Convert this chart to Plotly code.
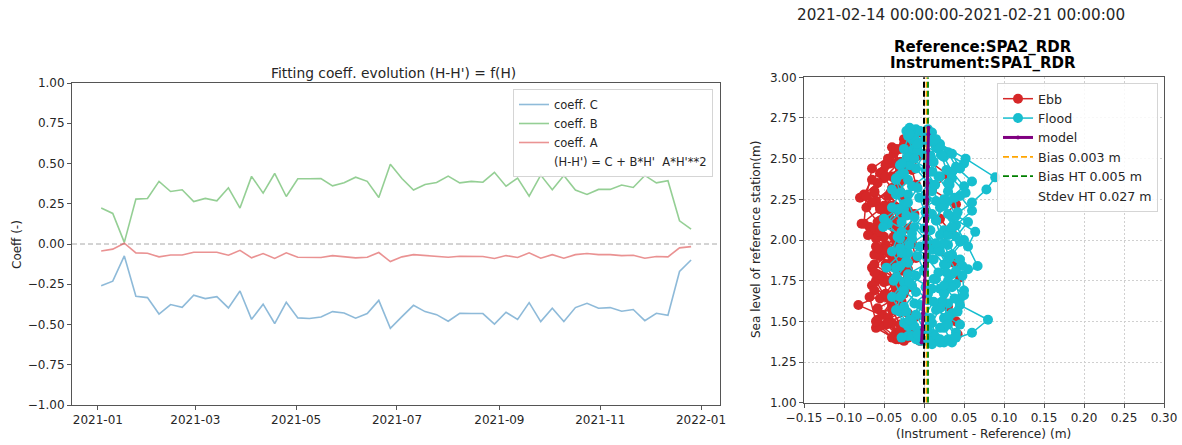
import pandas as pd
import plotly.graph_objects as go

# ---- Weekly fitting coefficients (H-H') = C + B*H' + A*H'**2 ----
weeks = pd.date_range("2021-01-03", periods=52, freq="7D")

coeff_c = [-0.260, -0.231, -0.074, -0.325, -0.333, -0.435, -0.376, -0.393, -0.318, -0.339,
           -0.327, -0.397, -0.292, -0.468, -0.374, -0.494, -0.362, -0.459, -0.463, -0.453,
           -0.420, -0.428, -0.461, -0.432, -0.350, -0.524, -0.451, -0.381, -0.420, -0.439,
           -0.480, -0.430, -0.432, -0.432, -0.497, -0.424, -0.468, -0.364, -0.482, -0.399,
           -0.482, -0.395, -0.368, -0.399, -0.395, -0.418, -0.407, -0.476, -0.430, -0.443,
           -0.171, -0.099]
coeff_b = [0.223, 0.190, 0.010, 0.279, 0.283, 0.389, 0.326, 0.337, 0.264, 0.283,
           0.268, 0.349, 0.223, 0.420, 0.316, 0.438, 0.295, 0.405, 0.405, 0.407,
           0.361, 0.380, 0.415, 0.389, 0.289, 0.496, 0.407, 0.335, 0.370, 0.382,
           0.422, 0.380, 0.389, 0.384, 0.445, 0.359, 0.409, 0.297, 0.428, 0.337,
           0.426, 0.335, 0.308, 0.339, 0.339, 0.366, 0.351, 0.426, 0.380, 0.393,
           0.144, 0.092]
coeff_a = [-0.043, -0.032, 0.005, -0.055, -0.057, -0.080, -0.068, -0.068, -0.051, -0.053,
           -0.051, -0.070, -0.039, -0.086, -0.059, -0.090, -0.055, -0.082, -0.082, -0.084,
           -0.072, -0.078, -0.086, -0.082, -0.053, -0.109, -0.080, -0.066, -0.072, -0.074,
           -0.082, -0.076, -0.078, -0.078, -0.090, -0.072, -0.084, -0.055, -0.088, -0.066,
           -0.088, -0.066, -0.059, -0.066, -0.066, -0.072, -0.070, -0.088, -0.078, -0.080,
           -0.024, -0.016]

left_xticks = ["2021-01-01", "2021-03-01", "2021-05-01", "2021-07-01",
               "2021-09-01", "2021-11-01", "2022-01-01"]
left_xrange = ["2020-12-16 08:00", "2022-01-12 12:00"]

# ---- One week of high-tide differences (Instrument - Reference), one list per tide ----
ebb_y = [
    [2.64, 2.56, 2.47, 2.38, 2.29, 2.20, 2.11, 2.02, 1.93, 1.84, 1.75, 1.66, 1.57, 1.48, 1.40],
    [2.62, 2.53, 2.44, 2.35, 2.26, 2.17, 2.08, 1.99, 1.90, 1.81, 1.72, 1.63, 1.54, 1.45, 1.38],
    [2.60, 2.51, 2.42, 2.33, 2.24, 2.15, 2.06, 1.97, 1.88, 1.79, 1.70, 1.60, 1.52, 1.43],
    [2.66, 2.57, 2.48, 2.39, 2.30, 2.21, 2.12, 2.03, 1.94, 1.85, 1.76, 1.67, 1.58, 1.49, 1.41],
    [2.63, 2.54, 2.45, 2.36, 2.27, 2.18, 2.09, 2.00, 1.91, 1.82, 1.73, 1.64, 1.55, 1.46, 1.39],
    [2.58, 2.49, 2.40, 2.31, 2.22, 2.13, 2.04, 1.95, 1.86, 1.77, 1.68, 1.59, 1.50, 1.42],
    [2.61, 2.52, 2.43, 2.34, 2.25, 2.16, 2.07, 1.98, 1.89, 1.80, 1.71, 1.62, 1.53, 1.44, 1.38],
    [2.55, 2.46, 2.37, 2.28, 2.19, 2.10, 2.01, 1.92, 1.83, 1.74, 1.65, 1.56, 1.47, 1.40],
    [2.59, 2.50, 2.41, 2.32, 2.23, 2.14, 2.05, 1.96, 1.87, 1.78, 1.69, 1.60, 1.51, 1.43],
    [2.57, 2.48, 2.39, 2.30, 2.21, 2.12, 2.03, 1.94, 1.85, 1.76, 1.67, 1.58, 1.49, 1.41],
    [2.65, 2.56, 2.47, 2.38, 2.29, 2.20, 2.11, 2.02, 1.93, 1.84, 1.75, 1.66, 1.57, 1.48, 1.40],
    [2.62, 2.44, 2.27, 2.10, 1.95, 1.80, 1.65, 1.50, 1.39],
]
ebb_x = [
    [-0.015, -0.030, -0.042, -0.050, -0.062, -0.072, -0.058, -0.050, -0.045, -0.040, -0.060, -0.050, -0.035, -0.048, -0.028],
    [-0.025, -0.038, -0.030, -0.058, -0.080, -0.045, -0.068, -0.035, -0.055, -0.030, -0.065, -0.040, -0.052, -0.022, -0.025],
    [-0.008, -0.020, -0.052, -0.035, -0.060, -0.030, -0.062, -0.048, -0.030, -0.058, -0.035, -0.082, -0.045, -0.035],
    [-0.002, -0.018, -0.028, -0.040, -0.030, -0.050, -0.040, -0.070, -0.025, -0.048, -0.038, -0.025, -0.058, -0.040, -0.012],
    [0.008, -0.010, -0.020, -0.028, -0.045, -0.020, -0.035, -0.025, -0.062, -0.020, -0.030, -0.055, -0.020, -0.060, -0.035],
    [0.015, 0.005, 0.030, 0.010, 0.040, 0.020, 0.035, 0.010, 0.038, 0.045, 0.025, 0.030, 0.040, 0.042],
    [-0.020, -0.005, -0.015, -0.010, -0.025, -0.012, -0.020, -0.015, -0.010, -0.022, -0.015, -0.028, -0.010, -0.018, -0.005],
    [-0.035, -0.048, -0.065, -0.075, -0.055, -0.078, -0.060, -0.042, -0.065, -0.050, -0.045, -0.030, -0.055, -0.040],
    [-0.025, -0.045, -0.055, -0.040, -0.065, -0.050, -0.055, -0.060, -0.040, -0.052, -0.062, -0.040, -0.058, -0.030],
    [-0.040, -0.030, -0.048, -0.062, -0.040, -0.055, -0.035, -0.050, -0.062, -0.035, -0.048, -0.038, -0.045, -0.022],
    [-0.018, -0.035, -0.035, -0.030, -0.042, -0.035, -0.045, -0.038, -0.035, -0.030, -0.045, -0.035, -0.040, -0.030, -0.020],
    [-0.012, -0.065, -0.072, -0.075, -0.058, -0.062, -0.068, -0.060, -0.032],
]
flood_y = [
    [1.38, 1.46, 1.55, 1.64, 1.73, 1.82, 1.91, 2.00, 2.09, 2.18, 2.27, 2.36, 2.45, 2.54, 2.63],
    [1.37, 1.43, 1.51, 1.60, 1.69, 1.78, 1.84, 1.96, 2.05, 2.14, 2.23, 2.31, 2.385, 2.50, 2.59, 2.68],
    [1.39, 1.47, 1.56, 1.65, 1.74, 1.83, 1.92, 2.01, 2.10, 2.19, 2.28, 2.37, 2.46, 2.55, 2.64],
    [1.40, 1.49, 1.58, 1.67, 1.76, 1.85, 1.94, 2.03, 2.12, 2.21, 2.30, 2.39, 2.48, 2.57, 2.66],
    [1.36, 1.43, 1.52, 1.61, 1.70, 1.79, 1.88, 1.97, 2.06, 2.15, 2.24, 2.33, 2.42, 2.51, 2.60],
    [1.38, 1.45, 1.54, 1.63, 1.72, 1.81, 1.90, 1.99, 2.08, 2.17, 2.26, 2.35, 2.44, 2.53, 2.62, 2.69],
    [1.39, 1.48, 1.57, 1.66, 1.75, 1.84, 1.93, 2.02, 2.11, 2.20, 2.29, 2.38, 2.47, 2.56, 2.65],
    [1.41, 1.50, 1.59, 1.68, 1.77, 1.86, 1.95, 2.04, 2.13, 2.22, 2.31, 2.40, 2.49, 2.58, 2.67],
    [1.37, 1.42, 1.50, 1.58, 1.67, 1.76, 1.85, 1.94, 2.03, 2.12, 2.21, 2.30, 2.39, 2.48, 2.57, 2.66],
    [1.40, 1.47, 1.56, 1.65, 1.74, 1.83, 1.92, 2.01, 2.08, 2.19, 2.28, 2.37, 2.46, 2.55, 2.64],
    [1.38, 1.44, 1.52, 1.61, 1.70, 1.79, 1.88, 1.97, 2.06, 2.15, 2.24, 2.33, 2.42, 2.51, 2.60, 2.67],
    [1.37, 1.46, 1.53, 1.62, 1.71, 1.80, 1.89, 1.98, 2.07, 2.16, 2.25, 2.34, 2.43, 2.52, 2.61],
    [1.41, 1.49, 1.57, 1.66, 1.75, 1.84, 1.93, 2.02, 2.11, 2.20, 2.29, 2.38, 2.47, 2.56, 2.65],
    [1.39, 1.45, 1.53, 1.62, 1.71, 1.80, 1.89, 1.98, 2.07, 2.16, 2.25, 2.34, 2.43, 2.52, 2.61, 2.68],
    [1.40, 1.48, 1.56, 1.64, 1.72, 1.81, 1.90, 1.99, 2.08, 2.17, 2.26, 2.35, 2.44, 2.53, 2.62],
    [1.42, 1.51, 1.60, 1.69, 1.78, 1.87, 1.96, 2.05, 2.14, 2.23, 2.32, 2.41, 2.50, 2.59],
]
flood_x = [
    [0.000, 0.020, 0.035, 0.045, 0.040, 0.055, 0.035, 0.050, 0.040, 0.060, 0.045, 0.060, 0.040, 0.030, 0.008],
    [0.025, 0.060, 0.080, 0.045, 0.050, 0.048, 0.067, 0.055, 0.064, 0.035, 0.060, 0.078, 0.089, 0.052, 0.020, -0.010],
    [-0.010, -0.020, -0.030, -0.040, -0.025, -0.035, -0.020, -0.030, -0.045, -0.025, -0.035, -0.020, -0.030, -0.015, -0.020],
    [0.015, 0.010, 0.020, 0.005, 0.015, 0.025, 0.010, 0.020, 0.015, 0.025, 0.010, 0.020, 0.005, 0.015, 0.000],
    [0.010, 0.040, 0.025, 0.030, 0.020, 0.035, 0.045, 0.030, 0.025, 0.040, 0.030, 0.050, 0.035, 0.025, -0.005],
    [-0.005, 0.000, -0.010, 0.005, -0.015, 0.000, -0.008, 0.004, -0.012, 0.002, -0.006, 0.005, -0.010, 0.000, -0.015, -0.018],
    [0.030, 0.045, 0.015, 0.050, 0.030, 0.048, 0.020, 0.040, 0.055, 0.020, 0.052, 0.035, 0.050, 0.018, 0.005],
    [-0.020, -0.015, -0.025, -0.010, -0.035, -0.020, -0.030, -0.015, -0.050, -0.025, -0.040, -0.030, -0.020, -0.010, -0.022],
    [0.020, 0.012, 0.028, 0.018, 0.025, 0.012, 0.028, 0.018, 0.030, 0.015, 0.022, 0.030, 0.018, 0.012, 0.020, 0.010],
    [-0.028, -0.012, -0.022, -0.030, -0.018, -0.047, -0.028, -0.015, -0.051, -0.032, -0.020, -0.035, -0.018, -0.008, -0.012],
    [0.005, -0.005, 0.008, -0.012, 0.010, -0.020, 0.012, -0.018, 0.008, -0.022, 0.015, -0.015, 0.010, -0.020, 0.005, -0.005],
    [0.035, 0.025, 0.030, 0.022, 0.035, 0.028, 0.032, 0.025, 0.035, 0.030, 0.025, 0.032, 0.028, 0.022, 0.012],
    [-0.015, -0.025, -0.035, -0.028, -0.038, -0.030, -0.040, -0.033, -0.028, -0.040, -0.030, -0.035, -0.028, -0.025, -0.018],
    [0.020, 0.005, 0.000, 0.012, 0.002, 0.018, 0.004, 0.015, 0.000, 0.010, 0.003, 0.014, 0.002, 0.008, 0.000, 0.005],
    [0.040, 0.030, 0.042, 0.038, 0.025, 0.040, 0.030, 0.045, 0.035, 0.042, 0.038, 0.030, 0.045, 0.035, 0.015],
    [-0.008, -0.018, -0.005, -0.025, -0.010, -0.022, -0.005, -0.028, -0.012, -0.020, -0.008, -0.025, -0.012, -0.008],
]
model_y = [1.37, 1.45, 1.55, 1.65, 1.75, 1.85, 1.95, 2.05, 2.15, 2.25, 2.35, 2.45, 2.55, 2.65, 2.69]
model_x = [-0.003, -0.002, -0.001, 0.000, 0.001, 0.002, 0.0025, 0.003, 0.0035, 0.004, 0.0045, 0.005, 0.0052, 0.0055, 0.0056]

bias = 0.003
bias_ht = 0.005
stdev_ht = 0.027

week_title = "2021-02-14 00:00:00-2021-02-21 00:00:00"
reference_name = "SPA2_RDR"
instrument_name = "SPA1_RDR"


def join_tides(groups):
    out = []
    for g in groups:
        out.extend(g)
        out.append(None)
    return out[:-1]


W, H = 1182, 445
FONT = "DejaVu Sans"
TXT = "#262626"
AX = "#555555"

fig = go.Figure()

# ---- left panel: coefficient time series ----
fig.add_trace(go.Scatter(x=[left_xrange[0], left_xrange[1]], y=[0, 0], mode="lines",
                         line=dict(color="#a8a8a8", width=1, dash="5px,3px"),
                         showlegend=False, hoverinfo="skip", xaxis="x", yaxis="y"))
for name, vals, col in [("coeff. C", coeff_c, "#1f77b4"),
                        ("coeff. B", coeff_b, "#2ca02c"),
                        ("coeff. A", coeff_a, "#d62728")]:
    fig.add_trace(go.Scatter(x=weeks, y=vals, mode="lines", name=name, opacity=0.5,
                             line=dict(color=col, width=1.6),
                             xaxis="x", yaxis="y", legend="legend"))
fig.add_trace(go.Scatter(x=[None], y=[None], mode="lines",
                         name="(H-H') = C + B*H'\u00a0 A*H'**2",
                         line=dict(color="rgba(0,0,0,0)", width=1),
                         xaxis="x", yaxis="y", legend="legend"))

# ---- right panel: differences vs reference sea level ----
fig.add_trace(go.Scatter(x=join_tides(ebb_x), y=join_tides(ebb_y), mode="lines+markers",
                         name="Ebb", line=dict(color="#d62728", width=1.5),
                         marker=dict(color="#d62728", size=10),
                         xaxis="x2", yaxis="y2", legend="legend2", legendrank=1))
fig.add_trace(go.Scatter(x=join_tides(flood_x), y=join_tides(flood_y), mode="lines+markers",
                         name="Flood", line=dict(color="#17becf", width=1.5),
                         marker=dict(color="#17becf", size=10),
                         xaxis="x2", yaxis="y2", legend="legend2", legendrank=2))
fig.add_trace(go.Scatter(x=[bias, bias], y=[1, 3], mode="lines",
                         name=f"Bias {bias:.3f} m",
                         line=dict(color="orange", width=1.6, dash="6px,3px"),
                         xaxis="x2", yaxis="y2", legend="legend2", legendrank=4))
fig.add_trace(go.Scatter(x=[bias_ht, bias_ht], y=[1, 3], mode="lines",
                         name=f"Bias HT {bias_ht:.3f} m",
                         line=dict(color="green", width=1.8, dash="6px,3px"),
                         xaxis="x2", yaxis="y2", legend="legend2", legendrank=5))
fig.add_trace(go.Scatter(x=[0, 0], y=[1, 3], mode="lines",
                         line=dict(color="black", width=2, dash="6px,3px"),
                         showlegend=False, hoverinfo="skip", xaxis="x2", yaxis="y2"))
fig.add_trace(go.Scatter(x=model_x, y=model_y, mode="lines+markers", name="model",
                         line=dict(color="purple", width=3),
                         marker=dict(color="purple", size=4),
                         xaxis="x2", yaxis="y2", legend="legend2", legendrank=3))
fig.add_trace(go.Scatter(x=[None], y=[None], mode="lines",
                         name=f"Stdev HT {stdev_ht:.3f} m",
                         line=dict(color="rgba(0,0,0,0)", width=1),
                         xaxis="x2", yaxis="y2", legend="legend2", legendrank=6))

axis_common = dict(showline=True, linecolor=AX, linewidth=1, mirror=True,
                   ticks="outside", ticklen=4, tickcolor=AX, zeroline=False,
                   automargin=False,
                   tickfont=dict(family=FONT, size=12, color=TXT))


def px_x(p):
    return p / W


def px_y(p):
    return 1 - p / H


grid_style = dict(showgrid=True, gridcolor="#d0d0d0", griddash="2px,2px", gridwidth=1)

fig.update_layout(
    width=W, height=H, margin=dict(l=0, r=0, t=0, b=0, autoexpand=False),
    paper_bgcolor="white", plot_bgcolor="white",
    font=dict(family=FONT, size=12, color=TXT),
    xaxis=dict(domain=[px_x(72), px_x(720)], anchor="y", type="date",
               range=left_xrange, tickvals=left_xticks, tickformat="%Y-%m",
               showgrid=False, **axis_common),
    yaxis=dict(domain=[px_y(405), px_y(83)], anchor="x", range=[-1, 1],
               dtick=0.25, tick0=0, tickformat=".2f", showgrid=False, **axis_common),
    xaxis2=dict(domain=[px_x(804), px_x(1164)], anchor="y2", range=[-0.15, 0.30],
                dtick=0.05, tick0=0, tickformat=".2f", **grid_style, **axis_common),
    yaxis2=dict(domain=[px_y(402.7), px_y(77.3)], anchor="x2", range=[1, 3],
                dtick=0.25, tick0=0, tickformat=".2f", **grid_style, **axis_common),
    legend=dict(x=px_x(713), y=px_y(89), xanchor="right", yanchor="top",
                bgcolor="rgba(255,255,255,0.85)", bordercolor="#d5d5d5", borderwidth=1,
                font=dict(family=FONT, size=11.5, color=TXT), traceorder="normal"),
    legend2=dict(x=px_x(1158), y=px_y(83), xanchor="right", yanchor="top",
                 bgcolor="rgba(255,255,255,0.85)", bordercolor="#d5d5d5", borderwidth=1,
                 font=dict(family=FONT, size=12.6, color=TXT), traceorder="normal"),
    showlegend=True,
)

annotations = [
    dict(text="Fitting coeff. evolution (H-H') = f(H)", x=px_x(393), y=px_y(72.5),
         font=dict(size=13.8)),
    dict(text="Coeff (-)", x=px_x(17), y=px_y(245), textangle=-90, font=dict(size=12)),
    dict(text=week_title, x=px_x(961), y=px_y(14.5), font=dict(size=15.2)),
    dict(text=f"<b>Reference:{reference_name}</b>", x=px_x(983), y=px_y(46.5),
         font=dict(size=15, color="black")),
    dict(text=f"<b>Instrument:{instrument_name}</b>", x=px_x(983), y=px_y(63),
         font=dict(size=15, color="black")),
    dict(text="Sea level of reference station(m)", x=px_x(756), y=px_y(240),
         textangle=-90, font=dict(size=12)),
    dict(text="(Instrument - Reference) (m)", x=px_x(983), y=px_y(434),
         font=dict(size=12.2)),
]
for a in annotations:
    a.update(xref="paper", yref="paper", xanchor="center", yanchor="middle",
             showarrow=False)
    a["font"].setdefault("family", FONT)
    a["font"].setdefault("color", TXT)
fig.update_layout(annotations=annotations)

fig.write_html("out.html")
